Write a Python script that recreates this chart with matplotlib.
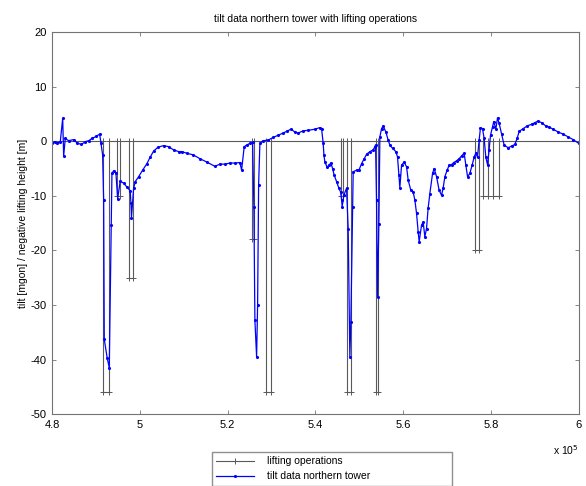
import matplotlib
matplotlib.use('Agg')
import matplotlib.pyplot as plt
from matplotlib.ticker import FuncFormatter

plt.rcParams['font.family'] = ['Liberation Sans', 'DejaVu Sans']
plt.rcParams['axes.unicode_minus'] = False

# tilt of the northern tower, sample number vs. tilt [mgon]
tilt_x = [480000, 480610, 481140, 481890, 482440, 482660, 483030, 483800, 484940, 485690,
          486670, 487580, 488360, 489110, 490090, 490860, 491160, 491540, 491770, 491910,
          492590, 493050, 493500, 493660, 494050, 494570, 494960, 495550, 496330, 497080,
          497830, 497990, 498110, 498600, 498970, 499740, 500650, 501630, 502380, 503160,
          504140, 505430, 506570, 507710, 508850, 509600, 510670, 512170, 513700, 515220,
          517110, 518250, 519390, 520530, 521670, 522810, 523190, 523790, 524330, 525080,
          525700, 525990, 526220, 526610, 526840, 527070, 527360, 528110, 529250, 530390,
          531530, 532670, 533440, 534420, 535330, 536080, 537220, 538360, 539890, 541020,
          541410, 541780, 541940, 542160, 542690, 543070, 543530, 543920, 544280, 544830,
          545350, 545740, 545970, 546100, 546490, 547100, 547470, 547850, 548080, 548470,
          548610, 549380, 549970, 550520, 551110, 551660, 552410, 553160, 553550, 553710,
          553930, 554160, 554460, 554690, 555070, 555440, 556050, 556580, 556960, 557580,
          558330, 558710, 559010, 559240, 559630, 560220, 560770, 561130, 561740, 562270,
          562660, 563040, 563410, 563640, 564180, 564550, 564930, 565320, 565680, 566070,
          566690, 567050, 567600, 568190, 568740, 569100, 569490, 570010, 570470, 571010,
          571540, 572150, 572740, 573290, 573880, 574270, 574660, 575180, 575700, 576160,
          576540, 576930, 577300, 577610, 578070, 578440, 578820, 579210, 579570, 579890,
          580350, 580640, 581100, 581490, 581850, 582400, 582990, 583900, 584680, 585430,
          585950, 586410, 587320, 588230, 589230, 589980, 590730, 591510, 592480, 593240,
          594150, 595290, 596430, 597560, 598700, 600000]
tilt_y = [-0.4, -0.1, -0.4, -0.1, 4.2, -2.7, 0.5, 0.1, 0.3, -0.3,
          -0.6, -0.1, 0.1, 0.5, 0.9, 1.3, -0.4, -2.5, -10.8, -36.3,
          -39.8, -41.5, -15.4, -5.9, -5.4, -5.9, -10.5, -7.3, -7.7, -8.4,
          -9.1, -11.4, -14.0, -8.6, -7.4, -6.5, -5.3, -4.1, -2.9, -1.8,
          -1.1, -0.8, -1.0, -1.6, -1.9, -1.9, -2.2, -2.5, -3.2, -3.8,
          -4.6, -4.2, -4.2, -4.0, -4.0, -3.9, -5.3, -1.0, -0.7, -0.4,
          -0.2, -12.0, -32.8, -39.5, -30.0, -8.0, -0.4, 0.1, 0.2, 0.7,
          1.1, 1.5, 1.8, 2.2, 1.7, 1.5, 1.9, 2.0, 2.2, 2.5,
          2.3, -0.4, -2.5, -3.8, -4.8, -4.4, -4.0, -5.0, -6.2, -7.4,
          -8.6, -9.3, -10.8, -12.0, -9.9, -8.6, -16.0, -39.5, -33.1, -12.0,
          -5.6, -5.3, -5.2, -4.1, -3.2, -2.4, -1.9, -1.6, -1.0, -0.7,
          -10.8, -28.5, -15.1, 0.8, 2.3, 2.8, 1.7, 0.2, -0.7, -1.3,
          -1.9, -2.9, -6.2, -8.5, -4.4, -3.8, -4.7, -7.1, -9.0, -9.3,
          -10.8, -13.2, -16.6, -18.4, -15.4, -14.8, -17.5, -16.0, -12.3, -9.6,
          -5.9, -5.0, -6.5, -9.0, -9.9, -8.6, -6.5, -5.3, -4.4, -4.3,
          -3.9, -3.6, -3.2, -2.7, -2.2, -4.4, -6.5, -5.9, -4.4, -2.9,
          -2.2, -2.9, 0.2, 2.5, 2.3, 0.5, -2.9, -4.3, -1.6, 1.1,
          2.6, 3.6, 2.2, 4.3, 3.3, 1.4, -0.7, -1.2, -0.9, -0.6,
          0.5, 1.8, 2.3, 2.8, 3.1, 3.4, 3.7, 3.4, 2.8, 2.6,
          2.2, 1.7, 1.3, 0.8, 0.3, -0.4]

# lifting operations: start / end sample and lifting height [m]
lift_start = [491680, 494700, 497600, 525600, 528700, 545800, 547200, 553700, 576300, 578200, 580500]
lift_end = [493050, 495600, 498500, 526100, 529800, 546200, 548200, 554300, 577200, 579300, 581800]
lift_height = [46, 10, 25, 18, 46, 10, 46, 46, 20, 10, 10]

# negative lifting height as a step line, zero between the lifts
lift_x = [480000]
lift_y = [0]
for s, e, h in zip(lift_start, lift_end, lift_height):
    lift_x += [s, s, e, e]
    lift_y += [0, -h, -h, 0]
lift_x.append(600000)
lift_y.append(0)

fig = plt.figure(figsize=(5.86, 4.86), dpi=100)
ax = fig.add_axes([0.0887, 0.148, 0.899, 0.786])

ax.plot(lift_x, lift_y, color='0.35', lw=0.8, marker='+', ms=5, mew=0.7,
        label='lifting operations')
ax.plot(tilt_x, tilt_y, color='blue', lw=0.9, marker='.', ms=2.5,
        label='tilt data northern tower')

ax.set_xlim(480000, 600000)
ax.set_ylim(-50, 20)
ax.set_xticks([480000, 500000, 520000, 540000, 560000, 580000, 600000])
ax.set_yticks(range(-50, 21, 10))
ax.xaxis.set_major_formatter(FuncFormatter(lambda v, p: '%g' % (v / 1e5)))
ax.tick_params(direction='in', top=True, right=True, length=3, width=0.6,
               color='0.45', labelsize=8, pad=4)
for sp in ax.spines.values():
    sp.set_color('0.45')
    sp.set_linewidth(0.8)

ax.set_title('tilt data northern tower with lifting operations', fontsize=7.5, pad=7)
ax.set_ylabel('tilt [mgon] / negative lifting height [m]', fontsize=7.5, labelpad=2)
ax.text(1.0, -0.075, 'x 10$^5$', transform=ax.transAxes, ha='right', va='top', fontsize=7.5)

# legend sits below the axes and runs off the bottom edge
fig.legend(loc='upper left', bbox_to_anchor=(0.362, -0.03, 0.41, 0.1), mode='expand',
           fontsize=7.5, frameon=True, fancybox=False, edgecolor='0.45',
           handlelength=3.6, handletextpad=1.3, borderaxespad=0, numpoints=1)

fig.savefig('out.png', dpi=100)
